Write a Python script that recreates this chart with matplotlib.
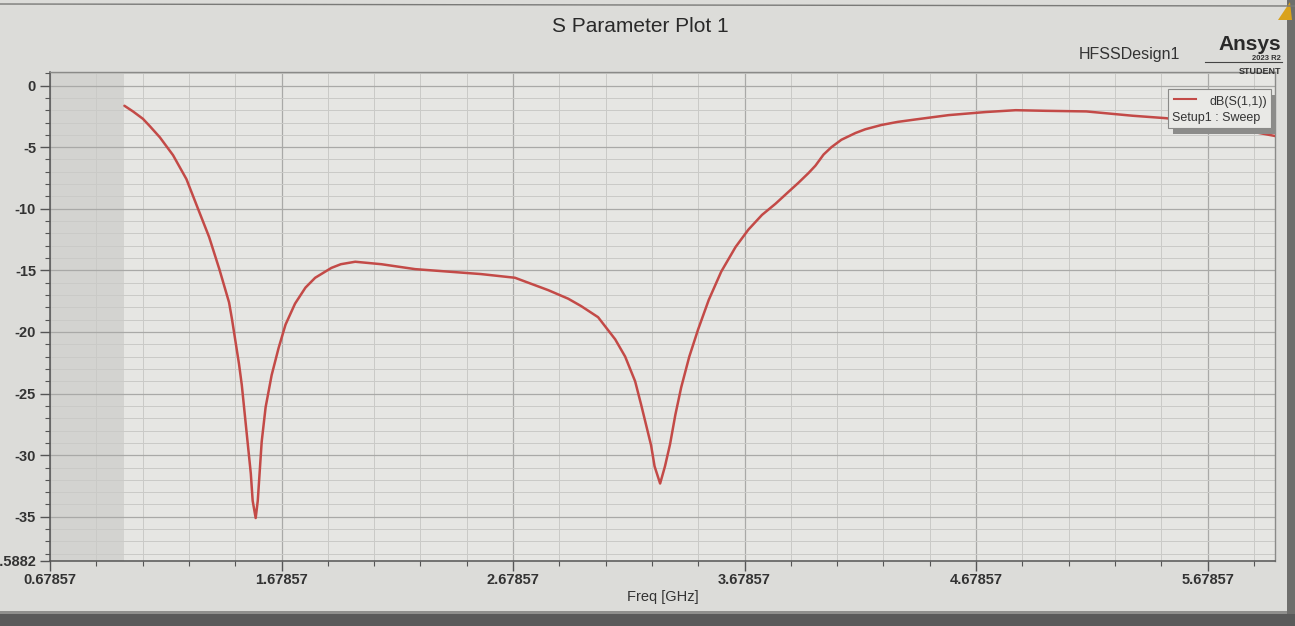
import matplotlib
matplotlib.use("Agg")
import matplotlib.pyplot as plt
from matplotlib.ticker import MultipleLocator, FixedLocator
from matplotlib.patches import Rectangle, Polygon
from matplotlib.lines import Line2D

# ---------------- data ----------------
freq_ghz = [1.0, 1.037, 1.08, 1.11, 1.153, 1.21, 1.268, 1.32, 1.366, 1.41,
            1.452, 1.465, 1.495, 1.507, 1.527, 1.546, 1.554, 1.567, 1.576, 1.593,
            1.61, 1.636, 1.666, 1.696, 1.737, 1.782, 1.824, 1.894, 1.935, 1.997,
            2.11, 2.256, 2.398, 2.54, 2.687, 2.83, 2.917, 2.973, 3.046, 3.12,
            3.163, 3.206, 3.232, 3.275, 3.29, 3.314, 3.335, 3.357, 3.38, 3.405,
            3.44, 3.478, 3.524, 3.578, 3.64, 3.695, 3.754, 3.812, 3.87, 3.911,
            3.955, 3.985, 4.02, 4.054, 4.097, 4.158, 4.2, 4.27, 4.34, 4.418,
            4.56, 4.72, 4.85, 4.98, 5.155, 5.355, 5.5, 5.72, 6.0]
s11_db = [-1.64, -2.1, -2.7, -3.3, -4.2, -5.65, -7.6, -10.1, -12.3, -14.9,
          -17.6, -19.0, -22.6, -24.3, -28.0, -31.5, -33.7, -35.1, -33.7, -28.9,
          -26.1, -23.5, -21.3, -19.4, -17.7, -16.4, -15.6, -14.8, -14.5, -14.3,
          -14.5, -14.9, -15.1, -15.3, -15.6, -16.6, -17.3, -17.9, -18.8, -20.6,
          -22.0, -24.0, -25.9, -29.2, -30.9, -32.3, -30.9, -29.1, -26.7, -24.5,
          -22.0, -19.8, -17.4, -15.1, -13.1, -11.7, -10.5, -9.6, -8.6, -7.9,
          -7.1, -6.5, -5.6, -5.0, -4.4, -3.85, -3.55, -3.2, -2.95, -2.75,
          -2.4, -2.15, -2.0, -2.05, -2.1, -2.45, -2.65, -3.2, -4.2]

x_ticks = [0.67857, 1.67857, 2.67857, 3.67857, 4.67857, 5.67857]
x_tick_labels = ["0.67857", "1.67857", "2.67857", "3.67857", "4.67857", "5.67857"]
y_ticks = [0, -5, -10, -15, -20, -25, -30, -35, -38.5882]
y_tick_labels = ["0", "-5", "-10", "-15", "-20", "-25", "-30", "-35", "-38.5882"]

title = "S Parameter Plot 1"
design = "HFSSDesign1"
x_label = "Freq [GHz]"
legend_trace = "dB(S(1,1))"
legend_setup = "Setup1 : Sweep"

# ---------------- figure ----------------
W, H = 1295, 626
plt.rcParams['font.family'] = ['Liberation Sans', 'DejaVu Sans']
fig = plt.figure(figsize=(W / 100, H / 100), dpi=100)
fig.patch.set_facecolor('#dcdcd9')

def fx(px):
    return px / W

def fy(py):
    return 1 - py / H

ax_left, ax_right, ax_top, ax_bot = 50, 1275, 72, 561
ax = fig.add_axes([fx(ax_left), fy(ax_bot), fx(ax_right - ax_left), (ax_bot - ax_top) / H])
ax.set_facecolor('#e6e6e3')

ax.set_xlim(0.67857, 5.97)
ax.set_ylim(-38.5882, 1.1)

# darker band left of sweep start
ax.axvspan(0.67857, 1.0, color='#d3d3d0', zorder=0, lw=0)

ax.xaxis.set_major_locator(FixedLocator(x_ticks))
ax.set_xticklabels(x_tick_labels)
ax.xaxis.set_minor_locator(MultipleLocator(0.2, offset=0.67857))
ax.yaxis.set_major_locator(FixedLocator(y_ticks))
ax.set_yticklabels(y_tick_labels)
ax.yaxis.set_minor_locator(MultipleLocator(1))

ax.grid(which='major', color='#a9a9a7', lw=0.9)
ax.grid(which='minor', color='#cacac7', lw=0.7)
ax.set_axisbelow(True)

ax.tick_params(axis='both', which='major', direction='out', length=7, width=1,
               color='#555555', labelsize=10.5, labelcolor='#333333')
ax.tick_params(axis='both', which='minor', direction='out', length=3.5, width=0.8,
               color='#555555')
for lab in ax.get_xticklabels() + ax.get_yticklabels():
    lab.set_fontweight('bold')
ax.tick_params(axis='y', pad=3)
ax.tick_params(axis='x', pad=2)

for side in ['left', 'bottom']:
    ax.spines[side].set_color('#555555')
    ax.spines[side].set_linewidth(1.1)
for side in ['top', 'right']:
    ax.spines[side].set_color('#8a8a88')
    ax.spines[side].set_linewidth(1.0)

ax.plot(freq_ghz, s11_db, color='#c34a47', lw=1.8, solid_joinstyle='round',
        solid_capstyle='round', zorder=3)

ax.set_xlabel(x_label, fontsize=10.5, color='#333333', labelpad=2)

# title and branding
fig.text(fx(640), fy(27), title, ha='center', va='center', fontsize=15, color='#2a2a2a')
fig.text(fx(1180), fy(55), design, ha='right', va='center', fontsize=11.5, color='#333333')
fig.text(fx(1281), fy(45), "Ansys", ha='right', va='center', fontsize=15,
         fontweight='bold', color='#2a2a2a')
fig.add_artist(Line2D([fx(1205), fx(1282)], [fy(62), fy(62)], color='#444444', lw=0.8))
fig.text(fx(1281), fy(58), "2023 R2", ha='right', va='center', fontsize=5.5,
         fontweight='bold', color='#333333')
fig.text(fx(1281), fy(71), "STUDENT", ha='right', va='center', fontsize=6.5,
         fontweight='bold', color='#333333')

# window edges of the photo
fig.add_artist(Line2D([0, 1], [fy(4), fy(6)], color='#7a7a78', lw=1.0))
fig.add_artist(Rectangle((0, 0), 1, 12 / H, color='#5a5a5a', lw=0))
fig.add_artist(Rectangle((0, 12 / H), 1, 3 / H, color='#8f8f8d', lw=0))
fig.add_artist(Rectangle((fx(1287), 12 / H), 1 - fx(1287), 1, color='#6e6e6c', lw=0))
fig.add_artist(Polygon([[fx(1278), fy(20)], [fx(1290), fy(2)], [fx(1292), fy(20)]],
                       closed=True, color='#d9a21b', lw=0))

# legend box with shadow
lx0, ly0, lx1, ly1 = 1168, 89, 1271, 128
fig.add_artist(Rectangle((fx(lx0 + 5), fy(ly1 + 6)), fx(lx1 - lx0), (ly1 - ly0) / H,
                         color='#8c8c8a', lw=0, zorder=5))
fig.add_artist(Rectangle((fx(lx0), fy(ly1)), fx(lx1 - lx0), (ly1 - ly0) / H,
                         facecolor='#e9e9e6', edgecolor='#8a8a88', lw=0.8, zorder=6))
fig.add_artist(Line2D([fx(1174), fx(1196)], [fy(99), fy(99)], color='#c34a47', lw=1.5, zorder=7))
fig.text(fx(1267), fy(102), legend_trace, ha='right', va='center', fontsize=9,
         color='#333333', zorder=7)
fig.text(fx(1172), fy(118), legend_setup, ha='left', va='center', fontsize=9,
         color='#333333', zorder=7)

fig.savefig("out.png", dpi=100, facecolor=fig.get_facecolor())
